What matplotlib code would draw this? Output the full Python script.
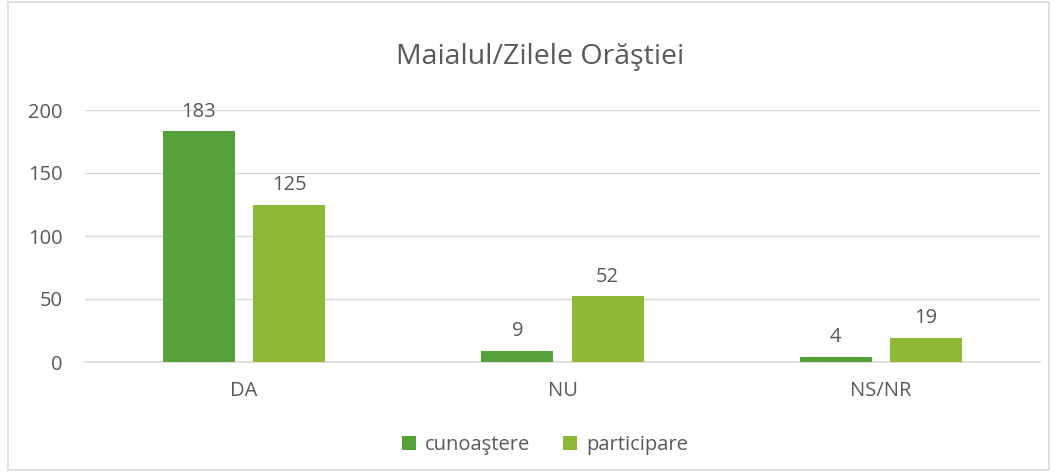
import numpy as np
import matplotlib.pyplot as plt
from matplotlib.patches import Rectangle

plt.rcParams['font.family'] = ['Open Sans', 'DejaVu Sans']

categories = ['DA', 'NU', 'NS/NR']
cunoastere = [183, 9, 4]
participare = [125, 52, 19]
series_names = ['cunoaştere', 'participare']
yticks = [0, 50, 100, 150, 200]

dark_green = '#55A13A'
light_green = '#8DB935'
text_gray = '#595959'
grid_gray = '#D9D9D9'

fig = plt.figure(figsize=(10.55, 4.76), dpi=100)
ax = fig.add_axes([85 / 1055, 114 / 476, 955 / 1055, 252 / 476])

x = np.arange(len(categories))
width = 0.226
offset = 0.142
b1 = ax.bar(x - offset, cunoastere, width, color=dark_green, label=series_names[0], zorder=3)
b2 = ax.bar(x + offset, participare, width, color=light_green, label=series_names[1], zorder=3)

for bars, vals in [(b1, cunoastere), (b2, participare)]:
    for rect, v in zip(bars, vals):
        ax.annotate(f'{v}', (rect.get_x() + rect.get_width() / 2, v),
                    xytext=(0, 7), textcoords='offset points',
                    ha='center', va='bottom', fontsize=14.5, color=text_gray)

ax.set_xlim(-0.5, 2.5)
ax.set_ylim(0, 200)
ax.set_yticks(yticks)
ax.set_xticks(x)
ax.set_xticklabels(categories)
ax.tick_params(axis='both', length=0, labelsize=14.5, labelcolor=text_gray)
ax.tick_params(axis='x', pad=14)
ax.tick_params(axis='y', pad=16)
ax.grid(axis='y', color=grid_gray, linewidth=1, zorder=0)
for s in ['top', 'right', 'left']:
    ax.spines[s].set_visible(False)
ax.spines['bottom'].set_color(grid_gray)
ax.spines['bottom'].set_linewidth(1.2)

fig.text(540 / 1055, 1 - 57 / 476, 'Maialul/Zilele Orăştiei', ha='center', va='center',
         fontsize=20.5, color=text_gray)

fig.legend(loc='center', bbox_to_anchor=(545 / 1055, 1 - 445 / 476), ncol=2,
           frameon=False, fontsize=14.5, labelcolor=text_gray,
           handlelength=0.7, handleheight=0.7, handletextpad=0.45, columnspacing=1.6)

# outer chart frame
fig.patches.append(Rectangle((8 / 1055, 6 / 476), 1041 / 1055, 468 / 476,
                             transform=fig.transFigure, fill=False,
                             edgecolor=grid_gray, linewidth=1.2))

plt.savefig('out.png', dpi=100)
